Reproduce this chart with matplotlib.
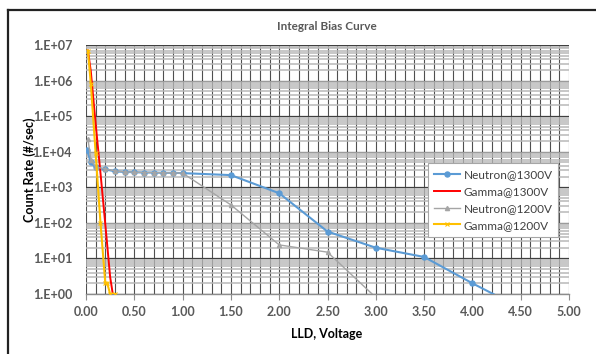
import matplotlib
matplotlib.use('Agg')
import matplotlib.pyplot as plt
import matplotlib.lines as mlines
from matplotlib.ticker import FixedLocator, MultipleLocator, LogLocator, NullFormatter, FuncFormatter
import numpy as np

# ---------------- data ----------------
n1300_x = [0.01, 0.05, 0.1, 0.2, 0.3, 0.4, 0.5, 0.6, 0.7, 0.8, 0.9, 1.0,
           1.5, 2.0, 2.5, 3.0, 3.5, 4.0, 4.5]
n1300_y = [1.15e4, 5.0e3, 3.6e3, 3.2e3, 2.8e3, 2.7e3, 2.65e3, 2.6e3, 2.6e3,
           2.55e3, 2.55e3, 2.5e3, 2.2e3, 680, 57, 20, 11, 2.0, 0.4]

g1300_x = [0.02, 0.05, 0.1, 0.15, 0.2, 0.25, 0.3]
g1300_y = [7.0e6, 1.8e6, 6.0e4, 2.5e3, 90, 3.0, 0.4]

n1200_x = [0.02, 0.05, 0.1, 0.2, 0.3, 0.4, 0.5, 0.6, 0.7, 0.8, 0.9, 1.0,
           1.5, 2.0, 2.5, 3.0]
n1200_y = [2.3e4, 6.0e3, 3.7e3, 3.3e3, 2.9e3, 2.7e3, 2.65e3, 2.6e3, 2.6e3,
           2.55e3, 2.55e3, 2.5e3, 320, 24, 15, 0.8]

g1200_x = [0.02, 0.05, 0.1, 0.15, 0.2, 0.22, 0.25, 0.3]
g1200_y = [7.0e6, 8.0e5, 9.0e3, 100, 2.0, 2.0, 1.0, 1.0]

series_labels = ['Neutron@1300V', 'Gamma@1300V', 'Neutron@1200V', 'Gamma@1200V']
x_ticks = [0.0, 0.5, 1.0, 1.5, 2.0, 2.5, 3.0, 3.5, 4.0, 4.5, 5.0]
y_ticks = [1e0, 1e1, 1e2, 1e3, 1e4, 1e5, 1e6, 1e7]

title = 'Integral Bias Curve'
xlabel = 'LLD, Voltage'
ylabel = 'Count Rate (#/sec)'

# ---------------- figure ----------------
plt.rcParams['font.family'] = ['Lato', 'DejaVu Sans']
W, H = 596, 354
fig = plt.figure(figsize=(W / 100, H / 100), dpi=100)
ax = fig.add_axes([86 / W, 60 / H, 483 / W, 249 / H])

ax.set_yscale('log')
ax.set_xlim(0, 5)
ax.set_ylim(1, 1e7)

# grid
ax.xaxis.set_major_locator(FixedLocator(x_ticks))
ax.xaxis.set_minor_locator(MultipleLocator(0.1))
ax.yaxis.set_major_locator(FixedLocator(y_ticks))
ax.yaxis.set_minor_locator(LogLocator(base=10, subs=np.arange(2, 10), numticks=20))
ax.yaxis.set_minor_formatter(NullFormatter())
ax.grid(True, axis='x', which='both', color='#505050', lw=0.8)
ax.grid(True, axis='y', which='minor', color='#b8b8b8', lw=1.1)
ax.grid(True, axis='y', which='major', color='#404040', lw=0.9)
ax.set_axisbelow(True)

for s in ['left', 'top', 'right']:
    ax.spines[s].set_visible(False)
ax.spines['bottom'].set_color('#8c8c8c')
ax.spines['bottom'].set_linewidth(1.0)

ax.xaxis.set_major_formatter(FuncFormatter(lambda v, p: f'{v:.2f}'))
ax.yaxis.set_major_formatter(FuncFormatter(lambda v, p: f'1.E+{int(round(np.log10(v))):02d}'))
ax.tick_params(axis='x', which='major', length=4, color='#8c8c8c', direction='out',
               labelsize=9, labelcolor='#595959', pad=5)
ax.tick_params(axis='x', which='minor', length=0)
ax.tick_params(axis='y', which='both', length=0, labelsize=9, labelcolor='#595959', pad=10)
for lab in ax.get_xticklabels() + ax.get_yticklabels():
    lab.set_fontweight('bold')

# series
ax.plot(n1300_x, n1300_y, color='#5B9BD5', lw=1.5, marker='o', ms=3.6,
        label=series_labels[0], zorder=3)
ax.plot(g1300_x, g1300_y, color='#FF0000', lw=1.4,
        label=series_labels[1], zorder=3)
ax.plot(n1200_x, n1200_y, color='#A5A5A5', lw=1.0, marker='^', ms=3.0,
        label=series_labels[2], zorder=3)
ax.plot(g1200_x, g1200_y, color='#FFC000', lw=1.5, marker='x', ms=2.5, mew=0.8,
        label=series_labels[3], zorder=3)

leg = ax.legend(loc='upper left', bbox_to_anchor=((428 - 86) / 483, (294 - 163) / 249),
                borderaxespad=0, frameon=True, fancybox=False, edgecolor='#a6a6a6',
                facecolor='white', framealpha=1, fontsize=8.5, handlelength=2.2,
                labelspacing=0.5, borderpad=0.5, handletextpad=0.3)
leg.get_frame().set_linewidth(0.8)
for t in leg.get_texts():
    t.set_color('#404040')

# texts
fig.text(327 / W, 1 - 26 / H, title, ha='center', va='center', fontsize=8.5,
         color='#595959', fontweight='bold')
fig.text(327 / W, 1 - 334 / H, xlabel, ha='center', va='center', fontsize=9,
         color='black', fontweight='bold')
fig.text(30 / W, 1 - 170 / H, ylabel, ha='center', va='center', fontsize=9,
         color='black', fontweight='bold', rotation=90)

# outer frame (top and left edges visible in the reference)
fig.add_artist(mlines.Line2D([8 / W, 1.0], [1 - 10 / H, 1 - 10 / H],
                             transform=fig.transFigure, color='#222222', lw=1.6))
fig.add_artist(mlines.Line2D([8 / W, 8 / W], [1 - 10 / H, 0.0],
                             transform=fig.transFigure, color='#222222', lw=1.6))

fig.savefig('out.png', dpi=100)
